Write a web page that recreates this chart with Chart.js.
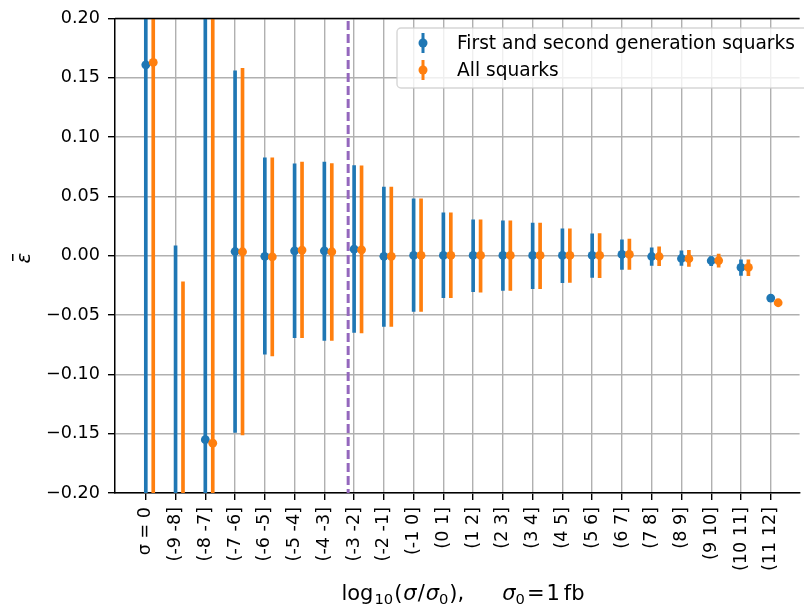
<!DOCTYPE html>
<html>
<head>
<meta charset="utf-8">
<script src="https://cdn.jsdelivr.net/npm/chart.js@4.4.1/dist/chart.umd.min.js"></script>
<style>
  html, body { margin: 0; padding: 0; background: #fff; }
  canvas { display: block; }
</style>
</head>
<body>
<canvas id="epsChart" width="804" height="607"></canvas>
<script>
// Cross-section bins (x categories)
const categories = ['σ = 0', '(-9 -8]', '(-8 -7]', '(-7 -6]', '(-6 -5]', '(-5 -4]', '(-4 -3]',
  '(-3 -2]', '(-2 -1]', '(-1 0]', '(0 1]', '(1 2]', '(2 3]', '(3 4]', '(4 5]', '(5 6]',
  '(6 7]', '(7 8]', '(8 9]', '(9 10]', '(10 11]', '(11 12]'];

const seriesNames = ['First and second generation squarks', 'All squarks'];

// First and second generation squarks: mean and error bar ends
const blueMean = [0.161, -0.35, -0.155, 0.0036, -0.0005, 0.0042, 0.0042, 0.0056, -0.0005, 0.0003, 0.0003,
  0.0003, 0.0003, 0.0003, 0.0003, 0.0003, 0.0011, -0.0006, -0.0023, -0.0042, -0.0098, -0.0357];
const blueLow = [-0.5, -0.75, -0.5, -0.149, -0.083, -0.069, -0.0713, -0.0646, -0.0595, -0.047, -0.0354,
  -0.0303, -0.0292, -0.0278, -0.0227, -0.0182, -0.0115, -0.0082, -0.0082, -0.0084, -0.0166, -0.0357];
const blueHigh = [0.8, 0.0084, 0.4, 0.156, 0.0825, 0.0775, 0.079, 0.076, 0.058, 0.048, 0.0362,
  0.0303, 0.0295, 0.0275, 0.0227, 0.0185, 0.0135, 0.0067, 0.0042, 0.0, -0.0034, -0.0357];

// All squarks
const orangeMean = [0.163, -0.4, -0.158, 0.0034, -0.001, 0.0048, 0.0034, 0.005, -0.0005, 0.0003, 0.0003,
  0.0003, 0.0003, 0.0003, 0.0003, 0.0003, 0.0011, -0.0006, -0.0025, -0.004, -0.0098, -0.0396];
const orangeLow = [-0.5, -0.8, -0.5, -0.151, -0.0845, -0.069, -0.0713, -0.065, -0.0595, -0.047, -0.0354,
  -0.0306, -0.0292, -0.0278, -0.0225, -0.0185, -0.0115, -0.0084, -0.009, -0.0095, -0.0168, -0.0396];
const orangeHigh = [0.8, -0.022, 0.4, 0.158, 0.0825, 0.079, 0.0777, 0.0758, 0.058, 0.048, 0.0362,
  0.0303, 0.0295, 0.0275, 0.0227, 0.0188, 0.014, 0.0076, 0.0045, 0.0014, -0.0034, -0.0396];

const orangeShift = 0.25;
const cutLine = 6.8;

const BLUE = '#1f77b4';
const ORANGE = '#ff7f0e';
const PURPLE = '#9467bd';
const FONT = "'DejaVu Sans', sans-serif";

function points(mean, shift) {
  return mean.map((v, i) => ({ x: i + shift, y: v }));
}
function bars(low, high, shift) {
  return low.map((v, i) => ({ x: i + shift, y: [v, high[i]] }));
}

const extras = {
  id: 'extras',
  afterDatasetsDraw(chart) {
    const ctx = chart.ctx;
    const area = chart.chartArea;
    // top spine
    ctx.save();
    ctx.strokeStyle = '#000';
    ctx.lineWidth = 1.5;
    ctx.beginPath();
    ctx.moveTo(area.left, area.top);
    ctx.lineTo(area.right, area.top);
    ctx.stroke();

    // legend box inside the plot
    const lx = 397, ly = 28, lw = 430, lh = 60;
    ctx.beginPath();
    ctx.roundRect(lx, ly, lw, lh, 4);
    ctx.fillStyle = 'rgba(255,255,255,0.8)';
    ctx.fill();
    ctx.strokeStyle = 'rgba(204,204,204,0.8)';
    ctx.lineWidth = 1.4;
    ctx.stroke();
    [BLUE, ORANGE].forEach((c, k) => {
      const cy = 43 + k * 27;
      ctx.strokeStyle = c;
      ctx.lineWidth = 3;
      ctx.beginPath();
      ctx.moveTo(423, cy - 10);
      ctx.lineTo(423, cy + 10);
      ctx.stroke();
      ctx.fillStyle = c;
      ctx.beginPath();
      ctx.arc(423, cy, 4.5, 0, Math.PI * 2);
      ctx.fill();
      ctx.fillStyle = '#000';
      ctx.font = '18.6px ' + FONT;
      ctx.textBaseline = 'middle';
      ctx.textAlign = 'left';
      ctx.fillText(seriesNames[k], 457, cy + 1);
    });
    ctx.restore();
  },
  afterDraw(chart) {
    const ctx = chart.ctx;
    ctx.save();
    ctx.fillStyle = '#000';
    // x title with subscripts
    const segs = [
      { t: 'log' }, { gap: 1 }, { t: '10', sub: true }, { gap: 1 }, { t: '(' }, { gap: 1 },
      { t: 'σ', it: true }, { gap: 1 }, { t: '/' }, { gap: 1 }, { t: 'σ', it: true },
      { t: '0', sub: true }, { gap: 1 }, { t: ')' }, { t: ',' }, { gap: 38 },
      { t: 'σ', it: true }, { t: '0', sub: true }, { gap: 2 }, { t: '=' }, { gap: 2 },
      { t: '1' }, { gap: 4 }, { t: 'fb' }
    ];
    const fontFor = s => (s.it ? 'italic ' : '') + (s.sub ? '14.7px ' : '21px ') + FONT;
    let total = 0;
    segs.forEach(s => {
      if (s.gap) { total += s.gap; return; }
      ctx.font = fontFor(s);
      s.w = ctx.measureText(s.t).width;
      total += s.w;
    });
    let x = 463 - total / 2;
    const base = 600;
    ctx.textBaseline = 'alphabetic';
    ctx.textAlign = 'left';
    segs.forEach(s => {
      if (s.gap) { x += s.gap; return; }
      ctx.font = fontFor(s);
      ctx.fillText(s.t, x, s.sub ? base + 4 : base);
      x += s.w;
    });

    // y title: epsilon with a bar
    ctx.translate(21, 258);
    ctx.rotate(-Math.PI / 2);
    ctx.font = 'italic 20px ' + FONT;
    ctx.textAlign = 'center';
    ctx.fillText('ε', 0, 9);
    ctx.fillRect(-3, -9, 7, 1.5);
    ctx.restore();
  }
};

const ctx = document.getElementById('epsChart').getContext('2d');
new Chart(ctx, {
  type: 'scatter',
  data: {
    datasets: [
      {
        type: 'line',
        data: [{ x: cutLine, y: -0.2 }, { x: cutLine, y: 0.2 }],
        borderColor: PURPLE,
        borderWidth: 3,
        borderDash: [9, 4],
        borderDashOffset: 5,
        pointRadius: 0,
        order: 6
      },
      {
        type: 'bar',
        data: bars(blueLow, blueHigh, 0),
        backgroundColor: BLUE,
        barThickness: 3,
        grouped: false,
        clip: 0,
        order: 5
      },
      {
        data: points(blueMean, 0),
        backgroundColor: BLUE,
        pointRadius: 4.4,
        pointBorderWidth: 0,
        order: 4
      },
      {
        type: 'bar',
        data: bars(orangeLow, orangeHigh, orangeShift),
        backgroundColor: ORANGE,
        barThickness: 3,
        grouped: false,
        clip: 0,
        order: 3
      },
      {
        data: points(orangeMean, orangeShift),
        backgroundColor: ORANGE,
        pointRadius: 4.4,
        pointBorderWidth: 0,
        order: 2
      }
    ]
  },
  options: {
    responsive: false,
    animation: false,
    devicePixelRatio: 1,
    layout: { padding: { top: 18, left: 0, right: 0, bottom: 0 } },
    plugins: { legend: { display: false }, tooltip: { enabled: false } },
    scales: {
      x: {
        type: 'linear',
        min: -1.035,
        max: 21.97,
        offset: false,
        afterBuildTicks: s => { s.ticks = categories.map((c, i) => ({ value: i })); },
        afterFit: s => { s.height = 114; },
        grid: { color: '#b0b0b0', lineWidth: 1.4, tickColor: '#000', tickLength: 7, tickWidth: 1.4, offset: false },
        border: { color: '#000', width: 1.5 },
        ticks: {
          autoSkip: false,
          minRotation: 90,
          maxRotation: 90,
          padding: 7,
          color: '#000',
          font: { family: FONT, size: 17.6 },
          callback: v => categories[v] ?? ''
        }
      },
      y: {
        min: -0.2,
        max: 0.2,
        afterFit: s => { s.width = 115; },
        grid: { color: '#b0b0b0', lineWidth: 1.4, tickColor: '#000', tickLength: 7, tickWidth: 1.4 },
        border: { color: '#000', width: 1.5 },
        ticks: {
          stepSize: 0.05,
          padding: 8,
          color: '#000',
          font: { family: FONT, size: 17.6 },
          callback: v => v.toFixed(2).replace('-', '−').replace('−0.00', '0.00')
        }
      }
    }
  },
  plugins: [extras]
});
</script>
</body>
</html>
